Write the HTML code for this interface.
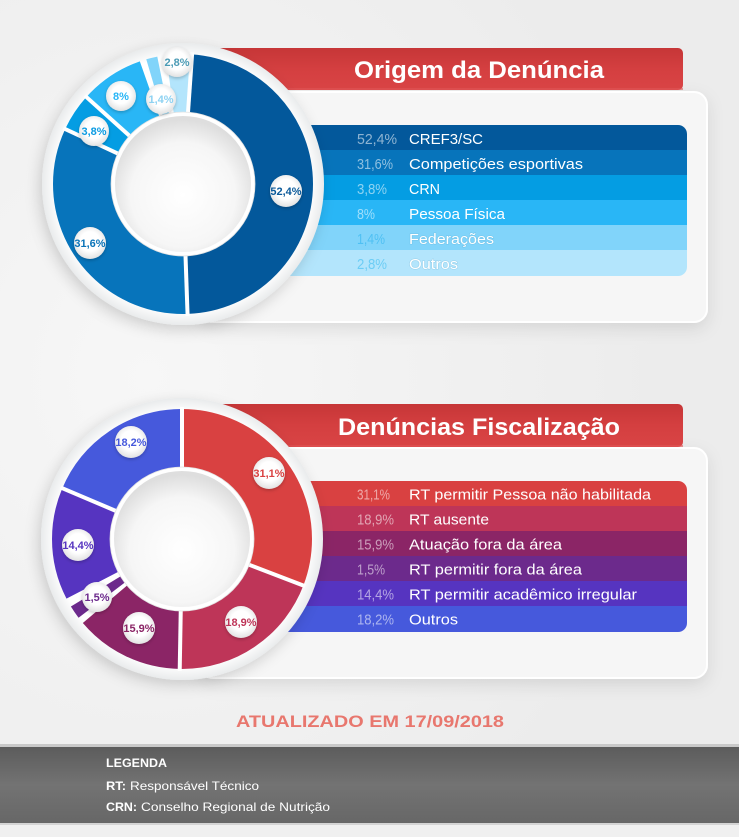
<!DOCTYPE html>
<html><head><meta charset="utf-8"><style>
html,body{margin:0;padding:0;background:#f0f0f0;}
svg{display:block;}
text{font-family:"Liberation Sans",Arial,sans-serif;}
</style></head><body>
<svg width="739" height="837" viewBox="0 0 739 837" xmlns="http://www.w3.org/2000/svg">
<defs>
  <radialGradient id="bg" cx="20%" cy="45%" r="70%">
    <stop offset="0" stop-color="#f7f7f7"/><stop offset="1" stop-color="#ececec"/>
  </radialGradient>
  <radialGradient id="ring" cx="50%" cy="50%" r="50%">
    <stop offset="0.9" stop-color="#ffffff"/><stop offset="1" stop-color="#e9ebec"/>
  </radialGradient>
  <radialGradient id="hole" cx="50%" cy="58%" r="55%">
    <stop offset="0" stop-color="#ffffff"/><stop offset="0.7" stop-color="#f6f6f6"/><stop offset="1" stop-color="#dedede"/>
  </radialGradient>
  <radialGradient id="bub" cx="50%" cy="45%" r="55%">
    <stop offset="0.55" stop-color="#ffffff"/><stop offset="1" stop-color="#e2e2e2"/>
  </radialGradient>
  <linearGradient id="red" x1="0" y1="0" x2="0" y2="1">
    <stop offset="0" stop-color="#c63637"/><stop offset="0.5" stop-color="#d43f40"/><stop offset="1" stop-color="#d94445"/>
  </linearGradient>
  <linearGradient id="foot" x1="0" y1="0" x2="0" y2="1">
    <stop offset="0" stop-color="#5c5c5c"/><stop offset="0.5" stop-color="#737373"/><stop offset="1" stop-color="#676767"/>
  </linearGradient>
  <filter id="sh" x="-20%" y="-20%" width="140%" height="140%">
    <feDropShadow dx="-3" dy="5" stdDeviation="7" flood-color="#000" flood-opacity="0.16"/>
  </filter>
  <filter id="psh" x="-10%" y="-10%" width="120%" height="130%">
    <feDropShadow dx="0" dy="6" stdDeviation="8" flood-color="#000" flood-opacity="0.10"/>
  </filter>
  <filter id="bsh" x="-40%" y="-40%" width="180%" height="180%">
    <feDropShadow dx="0" dy="1.5" stdDeviation="1.5" flood-color="#000" flood-opacity="0.22"/>
  </filter>
  <clipPath id="clipTop"><rect x="230" y="125" width="457" height="151" rx="9"/></clipPath>
  <clipPath id="clipBot"><rect x="230" y="481" width="457" height="151" rx="9"/></clipPath>
</defs>

<rect width="739" height="837" fill="url(#bg)"/>

<!-- ================= TOP SECTION ================= -->
<rect x="200" y="92" width="507" height="230" rx="13" fill="#f6f6f6" stroke="#ffffff" stroke-width="2" filter="url(#psh)"/>
<rect x="200" y="48" width="483" height="42" rx="5" fill="url(#red)"/>
<rect x="200" y="88" width="483" height="2" fill="#e05556" opacity="0.6"/>
<text x="354" y="78" font-size="24" font-weight="bold" fill="#ffffff" textLength="250" lengthAdjust="spacingAndGlyphs">Origem da Denúncia</text>

<g clip-path="url(#clipTop)">
  <rect x="230" y="125" width="457" height="25" fill="#03589b"/>
  <rect x="230" y="150" width="457" height="25" fill="#0774bb"/>
  <rect x="230" y="175" width="457" height="25" fill="#049de3"/>
  <rect x="230" y="200" width="457" height="25" fill="#29b6f6"/>
  <rect x="230" y="225" width="457" height="25" fill="#81d4fa"/>
  <rect x="230" y="250" width="457" height="26" fill="#b3e5fc"/>
</g>
<g font-size="15">
  <text x="357" y="144" fill="#ffffff" fill-opacity="0.55" textLength="40" lengthAdjust="spacingAndGlyphs">52,4%</text>
  <text x="409" y="144" fill="#ffffff" textLength="74" lengthAdjust="spacingAndGlyphs">CREF3/SC</text>
  <text x="357" y="169" fill="#ffffff" fill-opacity="0.55" textLength="36" lengthAdjust="spacingAndGlyphs">31,6%</text>
  <text x="409" y="169" fill="#ffffff" textLength="174" lengthAdjust="spacingAndGlyphs">Competições esportivas</text>
  <text x="357" y="194" fill="#ffffff" fill-opacity="0.55" textLength="30" lengthAdjust="spacingAndGlyphs">3,8%</text>
  <text x="409" y="194" fill="#ffffff" textLength="31" lengthAdjust="spacingAndGlyphs">CRN</text>
  <text x="357" y="219" fill="#ffffff" fill-opacity="0.55" textLength="18" lengthAdjust="spacingAndGlyphs">8%</text>
  <text x="409" y="219" fill="#ffffff" textLength="96" lengthAdjust="spacingAndGlyphs">Pessoa Física</text>
  <text x="357" y="244" fill="#4fc0f3" textLength="28" lengthAdjust="spacingAndGlyphs">1,4%</text>
  <text x="409" y="244" fill="#ffffff" stroke="#3a8fb8" stroke-opacity="0.25" stroke-width="1" paint-order="stroke" textLength="85" lengthAdjust="spacingAndGlyphs">Federações</text>
  <text x="357" y="269" fill="#6ccdf5" textLength="30" lengthAdjust="spacingAndGlyphs">2,8%</text>
  <text x="409" y="269" fill="#ffffff" stroke="#3a8fb8" stroke-opacity="0.25" stroke-width="1" paint-order="stroke" textLength="49" lengthAdjust="spacingAndGlyphs">Outros</text>
</g>

<!-- top donut -->
<circle cx="183" cy="184" r="141" fill="url(#ring)" filter="url(#sh)"/>
<g transform="rotate(-90 183 184)" fill="none" stroke-width="59">
  <circle cx="183" cy="184" r="100.5" pathLength="360" stroke="#03589b" stroke-dasharray="174 186" stroke-dashoffset="-4"/>
  <circle cx="183" cy="184" r="100.5" pathLength="360" stroke="#0774bb" stroke-dasharray="117 243" stroke-dashoffset="-178"/>
  <circle cx="183" cy="184" r="100.5" pathLength="360" stroke="#049de3" stroke-dasharray="17 343" stroke-dashoffset="-295"/>
  <circle cx="183" cy="184" r="100.5" pathLength="360" stroke="#29b6f6" stroke-dasharray="29 331" stroke-dashoffset="-312"/>
  <circle cx="183" cy="184" r="100.5" pathLength="360" stroke="#81d4fa" stroke-dasharray="5 355" stroke-dashoffset="-344"/>
  <circle cx="183" cy="184" r="100.5" pathLength="360" stroke="#b3e5fc" stroke-dasharray="11 349" stroke-dashoffset="-353"/>
</g>
<g stroke="#ffffff" stroke-width="4">
  <line x1="183" y1="113" x2="183" y2="52" transform="rotate(4 183 184)"/>
  <line x1="183" y1="113" x2="183" y2="52" transform="rotate(178 183 184)"/>
  <line x1="183" y1="113" x2="183" y2="52" transform="rotate(295 183 184)"/>
  <line x1="183" y1="113" x2="183" y2="52" transform="rotate(312 183 184)"/>
</g>
<circle cx="183" cy="184" r="72" fill="#ffffff" stroke="#e2e2e2" stroke-width="0.8"/>
<circle cx="183" cy="184" r="68" fill="url(#hole)"/>

<!-- top bubbles -->
<g font-size="11" font-weight="bold" text-anchor="middle">
  <circle cx="177" cy="62" r="15" fill="url(#bub)" filter="url(#bsh)"/>
  <text x="177" y="66" fill="#4b9bb5">2,8%</text>
  <circle cx="161" cy="99" r="15" fill="url(#bub)" filter="url(#bsh)"/>
  <text x="161" y="103" fill="#8dd2f2">1,4%</text>
  <circle cx="121" cy="96" r="15" fill="url(#bub)" filter="url(#bsh)"/>
  <text x="121" y="100" fill="#29b6f6">8%</text>
  <circle cx="94" cy="131" r="15" fill="url(#bub)" filter="url(#bsh)"/>
  <text x="94" y="135" fill="#0b9be2">3,8%</text>
  <circle cx="286" cy="191" r="16" fill="url(#bub)" filter="url(#bsh)"/>
  <text x="286" y="195" fill="#0b5a9a">52,4%</text>
  <circle cx="90" cy="243" r="16" fill="url(#bub)" filter="url(#bsh)"/>
  <text x="90" y="247" fill="#0a73b8">31,6%</text>
</g>

<!-- ================= BOTTOM SECTION ================= -->
<rect x="200" y="448" width="507" height="230" rx="13" fill="#f6f6f6" stroke="#ffffff" stroke-width="2" filter="url(#psh)"/>
<rect x="200" y="404" width="483" height="43" rx="5" fill="url(#red)"/>
<rect x="200" y="445" width="483" height="2" fill="#e05556" opacity="0.6"/>
<text x="338" y="435" font-size="24" font-weight="bold" fill="#ffffff" textLength="282" lengthAdjust="spacingAndGlyphs">Denúncias Fiscalização</text>

<g clip-path="url(#clipBot)">
  <rect x="230" y="481" width="457" height="25" fill="#d94141"/>
  <rect x="230" y="506" width="457" height="25" fill="#be3558"/>
  <rect x="230" y="531" width="457" height="25" fill="#8b2566"/>
  <rect x="230" y="556" width="457" height="25" fill="#6c2a8c"/>
  <rect x="230" y="581" width="457" height="25" fill="#5634c0"/>
  <rect x="230" y="606" width="457" height="26" fill="#4659dc"/>
</g>
<g font-size="15">
  <text x="357" y="499.5" fill="#ffffff" fill-opacity="0.55" textLength="33" lengthAdjust="spacingAndGlyphs">31,1%</text>
  <text x="409" y="499.5" fill="#ffffff" textLength="242" lengthAdjust="spacingAndGlyphs">RT permitir Pessoa não habilitada</text>
  <text x="357" y="524.5" fill="#ffffff" fill-opacity="0.55" textLength="37" lengthAdjust="spacingAndGlyphs">18,9%</text>
  <text x="409" y="524.5" fill="#ffffff" textLength="80" lengthAdjust="spacingAndGlyphs">RT ausente</text>
  <text x="357" y="549.5" fill="#ffffff" fill-opacity="0.55" textLength="37" lengthAdjust="spacingAndGlyphs">15,9%</text>
  <text x="409" y="549.5" fill="#ffffff" textLength="153" lengthAdjust="spacingAndGlyphs">Atuação fora da área</text>
  <text x="357" y="574.5" fill="#ffffff" fill-opacity="0.55" textLength="28" lengthAdjust="spacingAndGlyphs">1,5%</text>
  <text x="409" y="574.5" fill="#ffffff" textLength="173" lengthAdjust="spacingAndGlyphs">RT permitir fora da área</text>
  <text x="357" y="599.5" fill="#ffffff" fill-opacity="0.55" textLength="37" lengthAdjust="spacingAndGlyphs">14,4%</text>
  <text x="409" y="599.5" fill="#ffffff" textLength="228" lengthAdjust="spacingAndGlyphs">RT permitir acadêmico irregular</text>
  <text x="357" y="624.5" fill="#ffffff" fill-opacity="0.55" textLength="37" lengthAdjust="spacingAndGlyphs">18,2%</text>
  <text x="409" y="624.5" fill="#ffffff" textLength="49" lengthAdjust="spacingAndGlyphs">Outros</text>
</g>

<!-- bottom donut -->
<circle cx="182" cy="539" r="141" fill="url(#ring)" filter="url(#sh)"/>
<g transform="rotate(-90 182 539)" fill="none" stroke-width="59">
  <circle cx="182" cy="539" r="100.5" pathLength="360" stroke="#d94141" stroke-dasharray="111 249" stroke-dashoffset="0"/>
  <circle cx="182" cy="539" r="100.5" pathLength="360" stroke="#be3558" stroke-dasharray="70 290" stroke-dashoffset="-111"/>
  <circle cx="182" cy="539" r="100.5" pathLength="360" stroke="#8b2566" stroke-dasharray="49 311" stroke-dashoffset="-181"/>
  <circle cx="182" cy="539" r="100.5" pathLength="360" stroke="#6c2a8c" stroke-dasharray="6 354" stroke-dashoffset="-233"/>
  <circle cx="182" cy="539" r="100.5" pathLength="360" stroke="#5634c0" stroke-dasharray="50 310" stroke-dashoffset="-243"/>
  <circle cx="182" cy="539" r="100.5" pathLength="360" stroke="#4659dc" stroke-dasharray="67 293" stroke-dashoffset="-293"/>
</g>
<g stroke="#ffffff" stroke-width="4">
  <line x1="182" y1="468" x2="182" y2="407" transform="rotate(0 182 539)"/>
  <line x1="182" y1="468" x2="182" y2="407" transform="rotate(111 182 539)"/>
  <line x1="182" y1="468" x2="182" y2="407" transform="rotate(181 182 539)"/>
  <line x1="182" y1="468" x2="182" y2="407" transform="rotate(293 182 539)"/>
</g>
<circle cx="182" cy="539" r="72" fill="#ffffff" stroke="#e2e2e2" stroke-width="0.8"/>
<circle cx="182" cy="539" r="68" fill="url(#hole)"/>

<!-- bottom bubbles -->
<g font-size="11" font-weight="bold" text-anchor="middle">
  <circle cx="131" cy="442" r="16" fill="url(#bub)" filter="url(#bsh)"/>
  <text x="131" y="446" fill="#4659dc">18,2%</text>
  <circle cx="269" cy="473" r="16" fill="url(#bub)" filter="url(#bsh)"/>
  <text x="269" y="477" fill="#d94141">31,1%</text>
  <circle cx="78" cy="545" r="16" fill="url(#bub)" filter="url(#bsh)"/>
  <text x="78" y="549" fill="#5634c0">14,4%</text>
  <circle cx="97" cy="597" r="15" fill="url(#bub)" filter="url(#bsh)"/>
  <text x="97" y="601" fill="#6c2a8c">1,5%</text>
  <circle cx="139" cy="628" r="16" fill="url(#bub)" filter="url(#bsh)"/>
  <text x="139" y="632" fill="#8b2566">15,9%</text>
  <circle cx="241" cy="622" r="16" fill="url(#bub)" filter="url(#bsh)"/>
  <text x="241" y="626" fill="#be3558">18,9%</text>
</g>

<!-- ================= FOOTER ================= -->
<text x="236" y="727" font-size="17" font-weight="bold" fill="#e8776e" textLength="268" lengthAdjust="spacingAndGlyphs">ATUALIZADO EM 17/09/2018</text>

<rect x="0" y="744" width="739" height="3" fill="#c9c9c9"/>
<rect x="0" y="747" width="739" height="76" fill="url(#foot)"/>
<rect x="0" y="823" width="739" height="2" fill="#d4d4d4"/>
<rect x="0" y="825" width="739" height="12" fill="#f0f0f0"/>

<g fill="#ffffff" font-size="12">
  <text x="106" y="767" font-weight="bold" textLength="61" lengthAdjust="spacingAndGlyphs">LEGENDA</text>
  <text x="106" y="790" font-weight="bold" textLength="20" lengthAdjust="spacingAndGlyphs">RT:</text>
  <text x="130" y="790" textLength="129" lengthAdjust="spacingAndGlyphs">Responsável Técnico</text>
  <text x="106" y="811" font-weight="bold" textLength="31" lengthAdjust="spacingAndGlyphs">CRN:</text>
  <text x="141" y="811" textLength="189" lengthAdjust="spacingAndGlyphs">Conselho Regional de Nutrição</text>
</g>
</svg>
</body></html>
